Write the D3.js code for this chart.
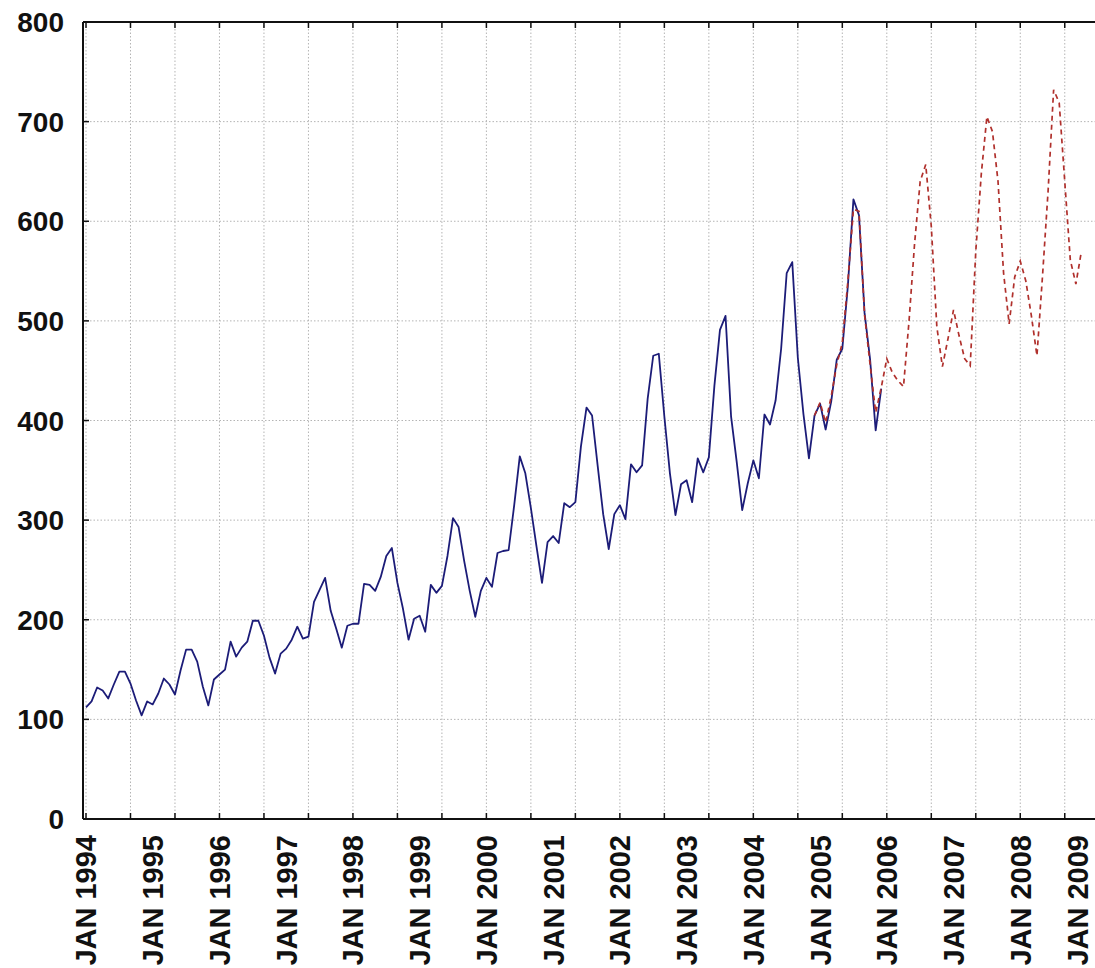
<!DOCTYPE html>
<html>
<head>
<meta charset="utf-8">
<script src="https://cdn.jsdelivr.net/npm/d3@7"></script>
<style>
  html, body { margin: 0; padding: 0; background: #fff; }
  svg { display: block; }
</style>
</head>
<body>
<svg id="chart" width="1095" height="968"></svg>
<script>
// ---- Data ----
// Observed monthly series, JAN 1994 .. DEC 2005 (month index 0..143)
const observed = [
  112,118,132,129,121,135,148,148,136,119,104,118,
  115,126,141,135,125,149,170,170,158,133,114,140,
  145,150,178,163,172,178,199,199,184,162,146,166,
  171,180,193,181,183,218,230,242,209,191,172,194,
  196,196,236,235,229,243,264,272,237,211,180,201,
  204,188,235,227,234,264,302,293,259,229,203,229,
  242,233,267,269,270,315,364,347,312,274,237,278,
  284,277,317,313,318,374,413,405,355,306,271,306,
  315,301,356,348,355,422,465,467,404,347,305,336,
  340,318,362,348,363,435,491,505,404,359,310,337,
  360,342,406,396,420,472,548,559,463,407,362,405,
  417,391,419,461,472,535,622,606,508,461,390,432
];
// Fitted + forecast series, starting at month index 131 (DEC 2004)
const forecastStart = 131;
const forecast = [
  405,
  418,398,424,456,478,540,612,610,506,456,408,433,
  462,448,440,434,500,578,640,657,595,494,454,482,
  511,485,462,455,570,648,705,690,640,548,497,544,
  560,540,505,465,545,630,732,719,640,561,537,570
];
// Axis ticks
const yTicks = [0,100,200,300,400,500,600,700,800];
const yearLabels = ["JAN 1994","JAN 1995","JAN 1996","JAN 1997","JAN 1998","JAN 1999",
  "JAN 2000","JAN 2001","JAN 2002","JAN 2003","JAN 2004","JAN 2005","JAN 2006",
  "JAN 2007","JAN 2008","JAN 2009"];
const gridMonths = d3.range(0, 184, 8);

// ---- Scales ----
const x = d3.scaleLinear().domain([0, 180]).range([86, 1087]);
const y = d3.scaleLinear().domain([0, 800]).range([819, 22]);
const pLeft = 83, pRight = 1100, pTop = y(800), pBottom = y(0);

const svg = d3.select("#chart");
const font = "'Liberation Sans', Arial, sans-serif";

// grid
const grid = svg.append("g").attr("stroke", "#b4b4b4").attr("stroke-width", 1)
  .attr("stroke-dasharray", "1.5,2");
grid.selectAll("line.v").data(gridMonths).enter().append("line")
  .attr("x1", d => x(d)).attr("x2", d => x(d))
  .attr("y1", pTop).attr("y2", pBottom);
grid.selectAll("line.h").data(yTicks.slice(1, -1)).enter().append("line")
  .attr("x1", pLeft).attr("x2", pRight)
  .attr("y1", d => y(d)).attr("y2", d => y(d));

// observed line
const lineObs = d3.line().x((d, i) => x(i)).y(d => y(d));
svg.append("path").datum(observed)
  .attr("d", lineObs)
  .attr("fill", "none").attr("stroke", "#1c1c78").attr("stroke-width", 1.8)
  .attr("stroke-linejoin", "round");

// forecast line
const lineFc = d3.line().x((d, i) => x(i + forecastStart)).y(d => y(d));
svg.append("path").datum(forecast)
  .attr("d", lineFc)
  .attr("fill", "none").attr("stroke", "#b0302c").attr("stroke-width", 1.7)
  .attr("stroke-dasharray", "5,4");

// frame
const frame = svg.append("g").attr("stroke", "#111").attr("stroke-width", 2).attr("fill", "none");
frame.append("line").attr("x1", pLeft).attr("x2", pLeft).attr("y1", pTop).attr("y2", pBottom);
frame.append("line").attr("x1", pLeft).attr("x2", pRight).attr("y1", pTop).attr("y2", pTop);
frame.append("line").attr("x1", pLeft).attr("x2", pRight).attr("y1", pBottom).attr("y2", pBottom);

// ticks
const ticks = svg.append("g").attr("stroke", "#111").attr("stroke-width", 1.5);
ticks.selectAll("line.b").data(gridMonths).enter().append("line")
  .attr("x1", d => x(d)).attr("x2", d => x(d)).attr("y1", pBottom).attr("y2", pBottom - 6);
ticks.selectAll("line.t").data(gridMonths).enter().append("line")
  .attr("x1", d => x(d)).attr("x2", d => x(d)).attr("y1", pTop).attr("y2", pTop + 6);
ticks.selectAll("line.l").data(yTicks).enter().append("line")
  .attr("x1", pLeft).attr("x2", pLeft + 6).attr("y1", d => y(d)).attr("y2", d => y(d));

// y labels
svg.append("g").selectAll("text").data(yTicks).enter().append("text")
  .attr("x", 64).attr("y", d => y(d))
  .attr("dy", "0.36em")
  .attr("text-anchor", "end")
  .attr("font-family", font).attr("font-weight", "bold").attr("font-size", 28)
  .attr("fill", "#111")
  .text(d => d);

// x labels
svg.append("g").selectAll("text").data(yearLabels).enter().append("text")
  .attr("transform", (d, i) => `translate(${Math.min(x(i * 12), 1078)},835) rotate(-90)`)
  .attr("dy", "0.36em")
  .attr("text-anchor", "end")
  .attr("font-family", font).attr("font-weight", "bold").attr("font-size", 29)
  .attr("fill", "#111")
  .text(d => d);
</script>
</body>
</html>
